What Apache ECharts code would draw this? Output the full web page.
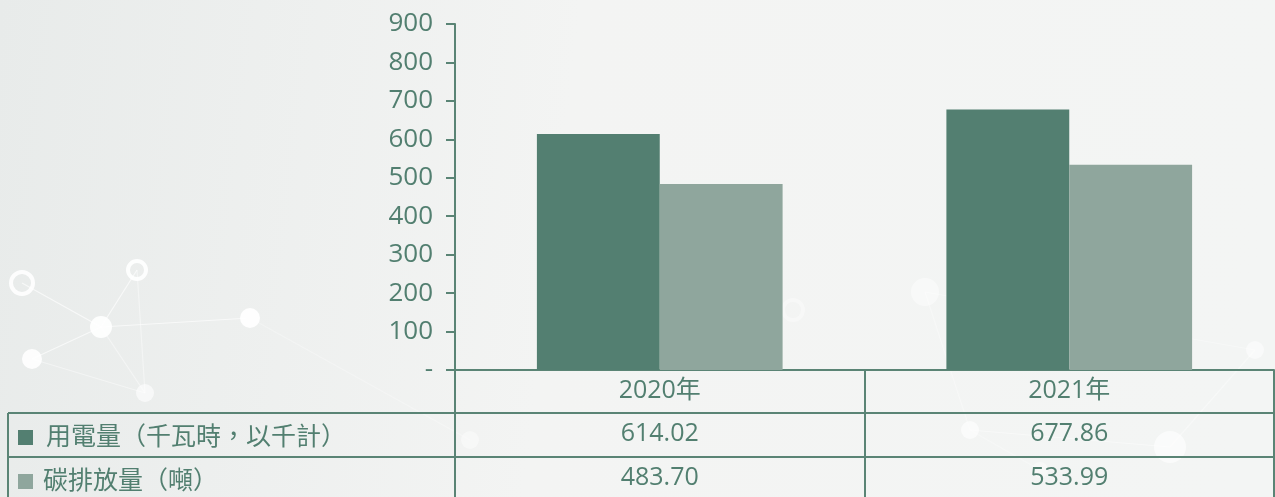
<!DOCTYPE html>
<html><head><meta charset="utf-8">
<script src="https://cdn.jsdelivr.net/npm/echarts@6/dist/echarts.min.js"></script>
<style>html,body{margin:0;padding:0;}#c{width:1275px;height:497px;}</style>
</head><body><div id="c"></div>
<script>
const categories = ['2020年', '2021年'];
const seriesNames = ['用電量（千瓦時，以千計）', '碳排放量（噸）'];
const electricity = [614.02, 677.86];
const carbon = [483.70, 533.99];
const yTicks = [0, 100, 200, 300, 400, 500, 600, 700, 800, 900];

const W = 1275, H = 497;
const GL = 455, GR = 1, GT = 24, GB = 127;
const ROW = [370, 413, 457, 497];
const TXT = '#527f70', LINE = '#5a8475';
const FONT = '"Open Sans", "Noto Sans CJK TC", sans-serif';
const FS = 25;
const C1 = '#537f71', C2 = '#8fa69d';
const valueRows = [electricity, carbon];

const chart = echarts.init(document.getElementById('c'));

// decorative network (background)
const nodes = [[22,283,11,true,0.9],[137,270,9,true,0.9],[101,327,11,false,0.9],[32,359,10,false,0.9],[250,318,10,false,0.9],[145,393,9,false,0.6],
  [925,292,14,false,0.45],[793,310,10,true,0.35],[1170,447,16,false,0.6],[970,430,9,false,0.6],[1255,350,9,false,0.5],[470,440,9,false,0.4],[1040,470,8,false,0.4]];
const deco = [];
const links = [[0,2],[1,2],[2,3],[2,4],[1,5],[3,5],[2,5],[4,11],[6,9],[8,9],[8,10],[6,10],[9,12]];
links.forEach(l=>{const a=nodes[l[0]],b=nodes[l[1]];deco.push({type:'line',silent:true,z:-10,shape:{x1:a[0],y1:a[1],x2:b[0],y2:b[1]},style:{stroke:'rgba(255,255,255,'+(Math.min(a[4],b[4])*0.7)+')',lineWidth:1.2}});});
nodes.forEach(n=>{
  if(n[3]) deco.push({type:'circle',silent:true,z:-9,shape:{cx:n[0],cy:n[1],r:n[2]},style:{fill:'none',stroke:'rgba(255,255,255,'+n[4]+')',lineWidth:4}});
  else deco.push({type:'circle',silent:true,z:-9,shape:{cx:n[0],cy:n[1],r:n[2]},style:{fill:'rgba(255,255,255,'+n[4]+')'}});
});

const tableLines = [];
[ROW[1], ROW[2]].forEach(y=>tableLines.push({type:'line',silent:true,z:5,shape:{x1:8,y1:y,x2:W-GR,y2:y},style:{stroke:LINE,lineWidth:2}}));
tableLines.push({type:'line',silent:true,z:5,shape:{x1:8,y1:ROW[1],x2:8,y2:H},style:{stroke:LINE,lineWidth:2}});

function valAxis(idx, offset){
  return {type:'category', data:categories, position:'bottom', gridIndex:0, offset:offset,
    axisLine:{show:false}, axisTick:{show:false},
    axisLabel:{margin:8, color:TXT, fontSize:FS, fontFamily:FONT,
      formatter:(v,i)=>valueRows[idx][i].toFixed(2)}};
}

chart.setOption({
  backgroundColor:{type:'linear',x:0,y:0,x2:1,y2:0.3,colorStops:[{offset:0,color:'#e8ebea'},{offset:0.45,color:'#f3f4f3'},{offset:1,color:'#f3f5f4'}]},
  animation:false,
  grid:{left:GL, right:GR, top:GT, bottom:GB},
  legend:[
    {data:[seriesNames[0]], left:13, top:ROW[1]+7, itemWidth:15, itemHeight:15, icon:'rect', selectedMode:false,
     textStyle:{color:TXT, fontSize:FS, fontFamily:FONT, padding:[0,0,0,8]}},
    {data:[seriesNames[1]], left:13, top:ROW[2]+7, itemWidth:15, itemHeight:15, icon:'rect', selectedMode:false,
     textStyle:{color:TXT, fontSize:FS, fontFamily:FONT, padding:[0,0,0,5]}}
  ],
  xAxis:[
    {type:'category', data:categories,
     axisLine:{lineStyle:{color:LINE, width:2}},
     axisTick:{show:true, interval:0, length:GB, lineStyle:{color:LINE, width:2}},
     axisLabel:{margin:8, color:TXT, fontSize:FS, fontFamily:FONT}},
    valAxis(0, ROW[1]-ROW[0]),
    valAxis(1, ROW[2]-ROW[0])
  ],
  yAxis:{type:'value', min:yTicks[0], max:yTicks[yTicks.length-1], interval:100,
    axisLine:{show:true, lineStyle:{color:LINE, width:2}},
    axisTick:{show:true, length:9, lineStyle:{color:LINE, width:2}},
    splitLine:{show:false},
    axisLabel:{margin:22, color:TXT, fontSize:26, fontFamily:FONT, formatter:v=>v===0?'-':String(v)}},
  series:[
    {name:seriesNames[0], type:'bar', data:electricity, barGap:'0%', barCategoryGap:'40%', itemStyle:{color:C1}},
    {name:seriesNames[1], type:'bar', data:carbon, barGap:'0%', barCategoryGap:'40%', itemStyle:{color:C2}}
  ],
  graphic:deco.concat(tableLines)
});
</script></body></html>
